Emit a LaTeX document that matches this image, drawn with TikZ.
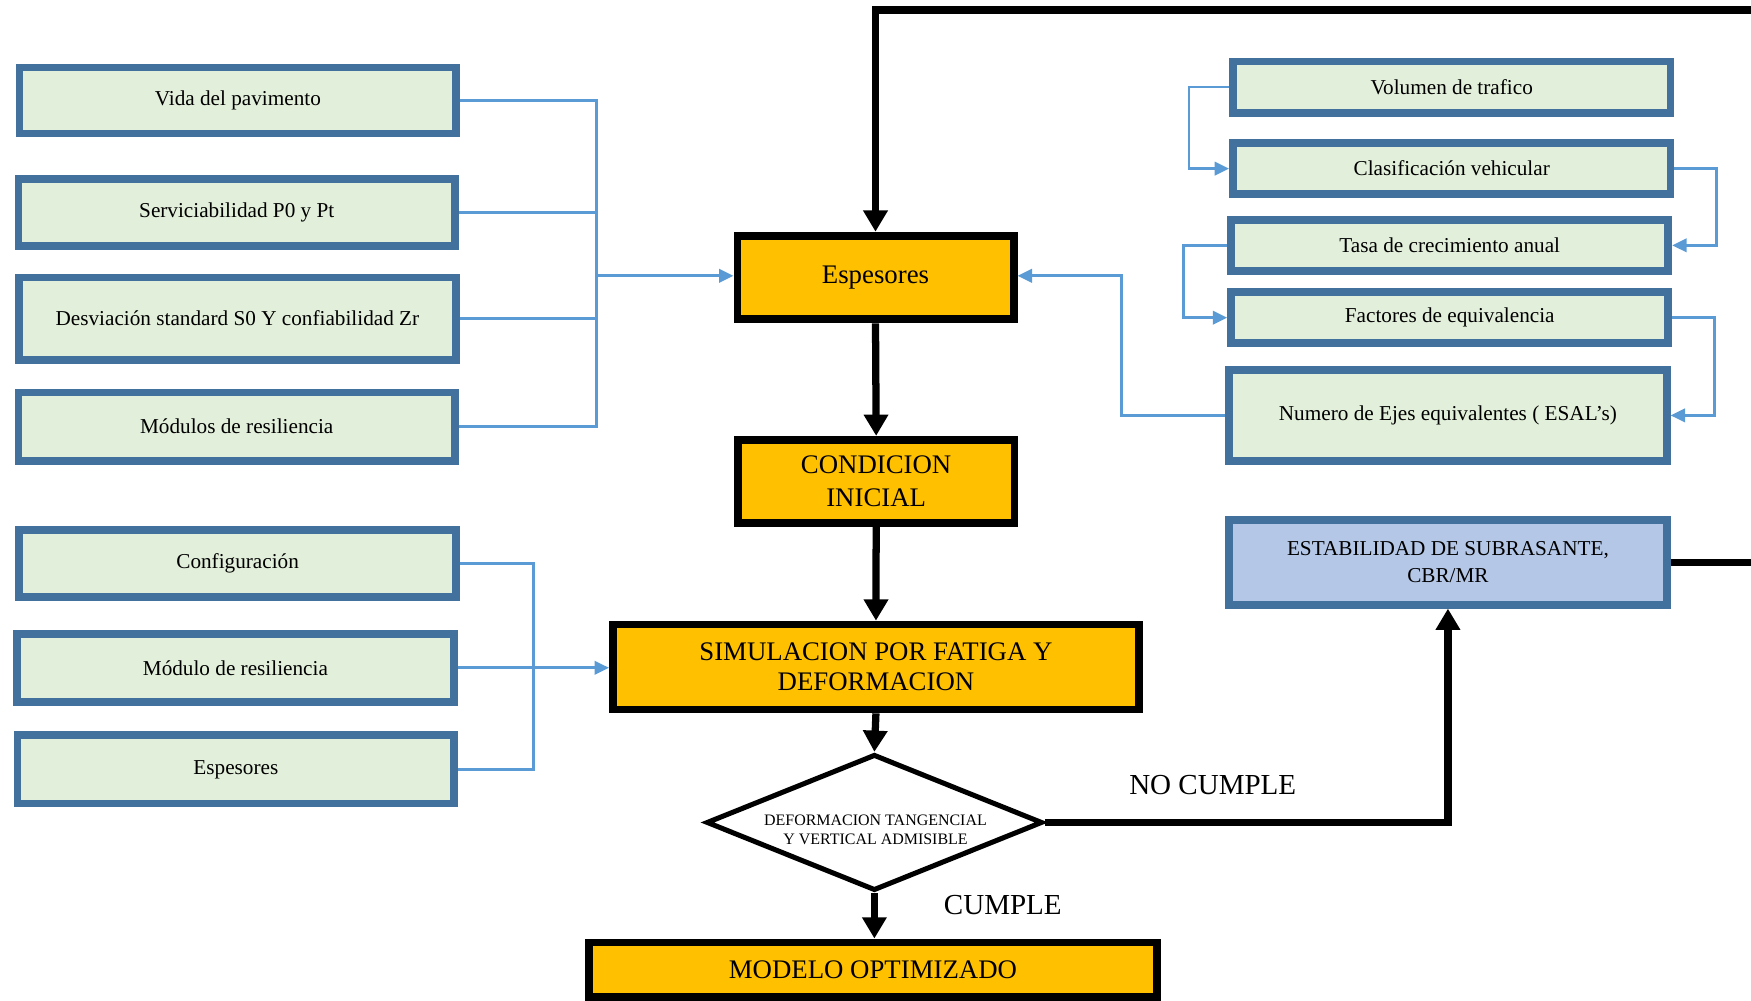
\documentclass[tikz,border=0pt]{standalone}
\usepackage{fontspec}
\setmainfont{Liberation Serif}
\usetikzlibrary{arrows.meta,shapes.geometric}
\definecolor{boxblue}{RGB}{65,113,156}
\definecolor{boxgreen}{RGB}{226,239,218}
\definecolor{boxyellow}{RGB}{255,192,0}
\definecolor{stabblue}{RGB}{180,199,231}
\definecolor{connblue}{RGB}{91,155,213}
\tikzset{
  gbox/.style={draw=boxblue, fill=boxgreen, line width=7pt, inner sep=0pt,
    font=\fontsize{19}{24}\selectfont, align=center},
  ybox/.style={draw=black, fill=boxyellow, line width=7pt, inner sep=0pt,
    font=\fontsize{24}{28}\selectfont, align=center},
  decision/.style={shape=diamond, draw=black, fill=white, line width=4.5pt, inner sep=0pt,
    aspect=2.5, minimum width=301pt, minimum height=122pt},
  dtext/.style={font=\fontsize{14.3}{17}\selectfont, align=center, inner sep=0pt},
  bconn/.style={draw=connblue, line width=2.5pt},
  barrow/.style={bconn, -{Triangle[length=13pt,width=12pt]}},
  kconn/.style={draw=black, line width=6.5pt},
  karrow/.style={kconn, -{Triangle[length=19pt,width=21pt]}},
  lbl/.style={font=\fontsize{26}{30}\selectfont, inner sep=0pt}
}
\begin{document}
\begin{tikzpicture}[x=1pt,y=-1pt]
\useasboundingbox (0,0) rectangle (1568,896);
\clip (0,0) rectangle (1568,896);

% left group 1
\node[gbox, minimum width=391pt, minimum height=59pt] (vida) at (213,90) {Vida del pavimento};
\node[gbox, minimum width=391pt, minimum height=60pt] (serv) at (212,190.5) {Serviciabilidad P0 y Pt};
\node[gbox, minimum width=391pt, minimum height=73.5pt] (desv) at (212.6,285.3) {Desviación standard S0 Y confiabilidad Zr};
\node[gbox, minimum width=391pt, minimum height=61pt] (modr) at (212,382) {Módulos de resiliencia};

% left group 2
\node[gbox, minimum width=391pt, minimum height=60pt] (conf) at (212.8,504.5) {Configuración};
\node[gbox, minimum width=391pt, minimum height=61pt] (modu) at (210.8,598) {Módulo de resiliencia};
\node[gbox, minimum width=391pt, minimum height=61pt] (esp2) at (211.2,689) {Espesores};

% right group
\node[gbox, minimum width=391.7pt, minimum height=46pt] (vol) at (1300,78) {Volumen de trafico};
\node[gbox, minimum width=391.7pt, minimum height=45.5pt] (clas) at (1300,151) {Clasificación vehicular};
\node[gbox, minimum width=391.4pt, minimum height=45.6pt] (tasa) at (1298.2,219.7) {Tasa de crecimiento anual};
\node[gbox, minimum width=391.4pt, minimum height=45.8pt] (fact) at (1298.2,284.5) {Factores de equivalencia};
\node[gbox, minimum width=391.8pt, minimum height=81.5pt] (num) at (1296.6,372) {Numero de Ejes equivalentes ( ESAL’s)};
\node[gbox, fill=stabblue, minimum width=391.8pt, minimum height=76pt] (stab) at (1296.6,503.5) {ESTABILIDAD DE SUBRASANTE,\\CBR/MR};

% central column
\node[ybox, minimum width=247.3pt, minimum height=75pt] (esp) at (784,248.5) {Espesores};
\node[ybox, minimum width=247.6pt, minimum height=74.4pt, font=\fontsize{24}{29}\selectfont] (cond) at (784.6,431) {CONDICION\\INICIAL};
\node[ybox, minimum width=471pt, minimum height=76pt, font=\fontsize{24}{27}\selectfont] (sim) at (784.4,597.3) {SIMULACION POR FATIGA Y\\DEFORMACION};
\node[decision] (dia) at (783,736.5) {};
\node[dtext] (diat) at (784,743) {DEFORMACION TANGENCIAL\\Y VERTICAL ADMISIBLE};
\node[ybox, minimum width=508.4pt, minimum height=48.5pt] (mod) at (781.7,868.2) {MODELO OPTIMIZADO};

% labels
\node[lbl] (nocum) at (1086,703) {NO CUMPLE};
\node[lbl] (cum) at (898,810) {CUMPLE};

% blue connectors, left group 1
\coordinate (jl1) at (534,247);
\draw[bconn] (vida.east) -| (jl1);
\draw[bconn] (serv.east) -| (jl1);
\draw[bconn] (desv.east) -| (jl1);
\draw[bconn] (modr.east) -| (jl1);
\draw[barrow] (jl1) -- (jl1 -| esp.west);

% blue connectors, left group 2
\coordinate (jl2) at (478,598);
\draw[bconn] (conf.east) -| (jl2);
\draw[bconn] (esp2.east) -| (jl2);
\draw[barrow] (modu.east) -- (modu.east -| sim.west);

% blue connectors, right group
\draw[barrow] (vol.west) -- ++(-36,0) |- (clas.west);
\draw[barrow] (clas.east) -- ++(38,0) |- (tasa.east);
\draw[barrow] (tasa.west) -- ++(-39,0) |- (fact.west);
\draw[barrow] (fact.east) -- ++(38,0) |- (num.east);
\draw[barrow] (num.west) -- ++(-93,0) |- (jl1 -| esp.east);

% black connectors
\draw[karrow] (esp.south) -- (cond.north);
\draw[karrow] (cond.south) -- (sim.north);
\draw[karrow] (sim.south) -- (dia.north);
\draw[karrow] (dia.south) -- (dia.south |- mod.north);
\draw[karrow] (dia.east) -| (stab.south);
\coordinate (farR) at (1640,9);
\draw[karrow] (stab.east) -| (farR) -| (esp.north);
\end{tikzpicture}
\end{document}
